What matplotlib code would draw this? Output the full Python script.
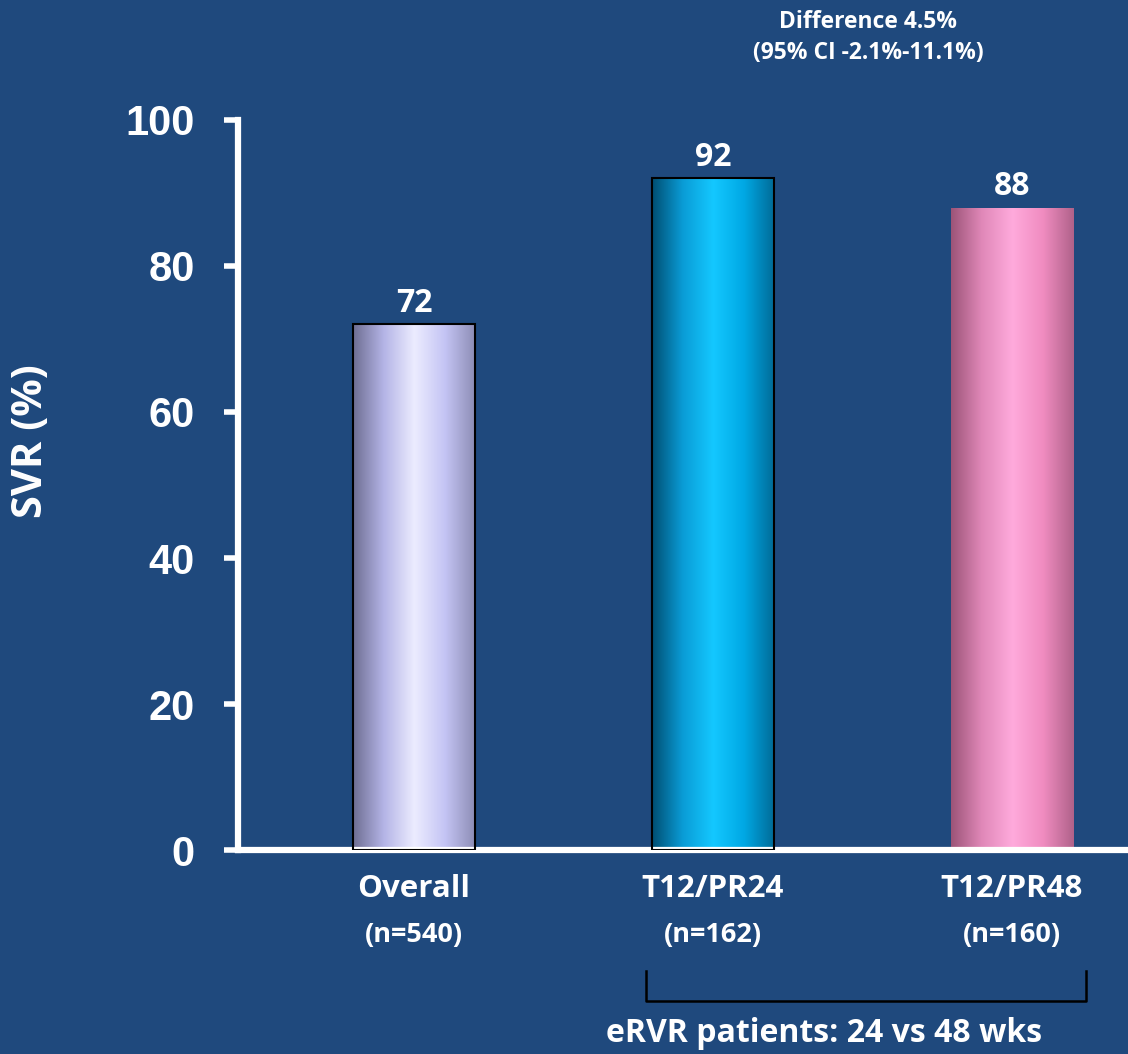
import matplotlib.pyplot as plt
import numpy as np
from matplotlib.colors import LinearSegmentedColormap

categories = ['Overall', 'T12/PR24', 'T12/PR48']
n_labels = ['(n=540)', '(n=162)', '(n=160)']
svr = [72, 92, 88]
yticks = [0, 20, 40, 60, 80, 100]

bg = '#1f497d'
fnt = 'Open Sans'
# left edge -> highlight -> right edge for each bar
shades = [
    ['#6e6e92', '#b4b4e6', '#ececff', '#c4c4f4', '#8c8cb4'],
    ['#004e72', '#0a9cd6', '#14c8ff', '#00a8e4', '#006a96'],
    ['#9c5478', '#e088b8', '#ffaadc', '#f08cc0', '#b0628a'],
]
edges = ['black', 'black', 'none']

fig = plt.figure(figsize=(11.28, 10.54), dpi=100, facecolor=bg)
ax = fig.add_axes([238 / 1128, 204 / 1054, 890 / 1128, 730 / 1054], facecolor=bg)

x = np.arange(len(categories))
bars = ax.bar(x, svr, width=0.41, color='none', edgecolor=edges, linewidth=1.5, zorder=3)

grad = np.linspace(0, 1, 256).reshape(1, -1)
for b, cols in zip(bars, shades):
    cmap = LinearSegmentedColormap.from_list('g', cols)
    im = ax.imshow(grad, cmap=cmap, aspect='auto', zorder=2,
                   extent=[b.get_x(), b.get_x() + b.get_width(), 0, b.get_height()])
    im.set_clip_path(b)

for xi, v in zip(x, svr):
    ax.text(xi, v + 2.9, str(v), ha='center', va='center', color='white',
            fontsize=23, fontweight='bold', family=fnt)

ax.set_xlim(-0.589, 2.388)
ax.set_ylim(0, 100)
ax.set_yticks(yticks)
ax.set_yticklabels([str(t) for t in yticks], fontsize=30, fontweight='bold',
                   family='Liberation Sans', color='white')
ax.tick_params(axis='y', length=10, width=4, color='white', pad=21)
ax.set_xticks([])
for s in ['top', 'right']:
    ax.spines[s].set_visible(False)
for s in ['left', 'bottom']:
    ax.spines[s].set_color('white')
    ax.spines[s].set_linewidth(4.5)

fig.text(31 / 1128, 1 - 441 / 1054, 'SVR (%)', rotation=90, ha='center', va='center',
         fontsize=30, fontweight='bold', family=fnt, color='white')

for xi, c, n in zip(x, categories, n_labels):
    ax.text(xi, -5.4, c, ha='center', va='center', color='white', fontsize=22.5,
            fontweight='bold', family=fnt, clip_on=False)
    ax.text(xi, -11.6, n, ha='center', va='center', color='white', fontsize=19.5,
            fontweight='bold', family=fnt, clip_on=False)

fig.text(868 / 1128, 1 - 22 / 1054, 'Difference 4.5%', ha='center', va='center',
         color='white', fontsize=16.5, fontweight='bold', family=fnt)
fig.text(868 / 1128, 1 - 53 / 1054, '(95% CI -2.1%-11.1%)', ha='center', va='center',
         color='white', fontsize=16.5, fontweight='bold', family=fnt)

# bracket for eRVR patients
bx0, bx1 = 646 / 1128, 1086 / 1128
by0, by1 = 1 - 1001 / 1054, 1 - 971 / 1054
fig.add_artist(plt.Line2D([bx0, bx0, bx1, bx1], [by1, by0, by0, by1], color='black', lw=1.8))
fig.text(824 / 1128, 1 - 1033 / 1054, 'eRVR patients: 24 vs 48 wks', ha='center', va='center',
         color='white', fontsize=23, fontweight='bold', family=fnt)

fig.savefig('out.png', dpi=100, facecolor=bg)
